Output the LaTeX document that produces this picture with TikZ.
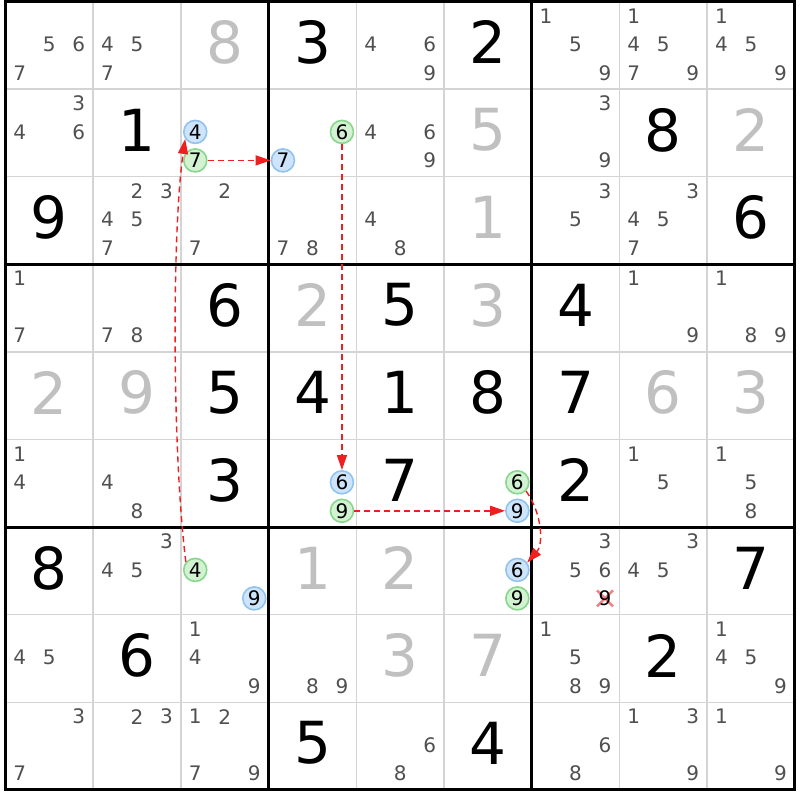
\documentclass[tikz,border=0pt]{standalone}
\usepackage{fontspec}
\setmainfont{DejaVu Sans}
\usetikzlibrary{arrows.meta}
\definecolor{candgray}{RGB}{80,80,80}
\definecolor{solvedgray}{RGB}{192,192,192}
\definecolor{thingrid}{RGB}{212,212,212}
\definecolor{bluefill}{RGB}{206,228,250}
\definecolor{blueline}{RGB}{145,195,240}
\definecolor{greenfill}{RGB}{210,242,210}
\definecolor{greenline}{RGB}{135,215,140}
\definecolor{chainred}{RGB}{240,30,30}
\definecolor{crossred}{RGB}{240,130,130}
\tikzset{
  candstyle/.style={inner sep=0pt, text=candgray, font=\fontsize{20pt}{20pt}\selectfont},
  givenstyle/.style={inner sep=0pt, text=black, font=\fontsize{58pt}{58pt}\selectfont},
  solvedstyle/.style={inner sep=0pt, text=solvedgray, font=\fontsize{58pt}{58pt}\selectfont},
  bluecirc/.style={circle, inner sep=0pt, minimum size=23pt, draw=blueline, fill=bluefill, line width=1.6pt, text=black, font=\fontsize{20pt}{20pt}\selectfont},
  greencirc/.style={circle, inner sep=0pt, minimum size=23pt, draw=greenline, fill=greenfill, line width=1.6pt, text=black, font=\fontsize{20pt}{20pt}\selectfont},
  elimstyle/.style={inner sep=0pt, text=black, font=\fontsize{20pt}{20pt}\selectfont},
  chainarrow/.style={draw=chainred, line width=1.4pt, dash pattern=on 6pt off 4pt, -{Triangle[length=15pt,width=10pt]}},
  crossline/.style={draw=crossred, line width=2.5pt},
  thinline/.style={draw=thingrid, line width=1.5pt},
  thickline/.style={draw=black, line width=3pt, line cap=rect}
}
% candidate position
\newcommand\sdkpos[3]{%
  \pgfmathsetmacro\px{5.5+(#2-0.5)*87.7+(mod(#3-1,3)-1)*29.5}%
  \pgfmathsetmacro\py{1.5+(#1-0.5)*87.6+(floor((#3-1)/3)-1)*28.5-1}}
\newcommand\sdkcand[3]{\sdkpos{#1}{#2}{#3}\node[candstyle] (k#1#2#3) at (\px,\py) {#3};}
\newcommand\sdkcands[3]{\foreach \dd in {#3} {\sdkcand{#1}{#2}{\dd}}}
\newcommand\sdkmark[4]{\sdkpos{#1}{#2}{#3}\node[#4] (k#1#2#3) at (\px,\py) {#3};}
\newcommand\sdkbig[4]{%
  \pgfmathsetmacro\px{5.5+(#2-0.5)*87.7}%
  \pgfmathsetmacro\py{1.5+(#1-0.5)*87.6-3}%
  \node[#4] (b#1#2) at (\px,\py) {#3};}
\begin{document}
\begin{tikzpicture}[x=1pt,y=-1pt]
\useasboundingbox (0,0) rectangle (800,800);
\fill[white] (0,0) rectangle (800,800);
% thin grid
\foreach \i in {1,2,4,5,7,8} {
  \draw[thinline] ({5.5+\i*87.7},1.5) -- ({5.5+\i*87.7},789.9);
  \draw[thinline] (5.5,{1.5+\i*87.6}) -- (794.8,{1.5+\i*87.6});
}
% givens
\sdkbig{1}{4}{3}{givenstyle} \sdkbig{1}{6}{2}{givenstyle}
\sdkbig{2}{2}{1}{givenstyle} \sdkbig{2}{8}{8}{givenstyle}
\sdkbig{3}{1}{9}{givenstyle} \sdkbig{3}{9}{6}{givenstyle}
\sdkbig{4}{3}{6}{givenstyle} \sdkbig{4}{5}{5}{givenstyle} \sdkbig{4}{7}{4}{givenstyle}
\sdkbig{5}{3}{5}{givenstyle} \sdkbig{5}{4}{4}{givenstyle} \sdkbig{5}{5}{1}{givenstyle}
\sdkbig{5}{6}{8}{givenstyle} \sdkbig{5}{7}{7}{givenstyle}
\sdkbig{6}{3}{3}{givenstyle} \sdkbig{6}{5}{7}{givenstyle} \sdkbig{6}{7}{2}{givenstyle}
\sdkbig{7}{1}{8}{givenstyle} \sdkbig{7}{9}{7}{givenstyle}
\sdkbig{8}{2}{6}{givenstyle} \sdkbig{8}{8}{2}{givenstyle}
\sdkbig{9}{4}{5}{givenstyle} \sdkbig{9}{6}{4}{givenstyle}
% solved
\sdkbig{1}{3}{8}{solvedstyle} \sdkbig{2}{6}{5}{solvedstyle} \sdkbig{2}{9}{2}{solvedstyle}
\sdkbig{3}{6}{1}{solvedstyle} \sdkbig{4}{4}{2}{solvedstyle} \sdkbig{4}{6}{3}{solvedstyle}
\sdkbig{5}{1}{2}{solvedstyle} \sdkbig{5}{2}{9}{solvedstyle} \sdkbig{5}{8}{6}{solvedstyle}
\sdkbig{5}{9}{3}{solvedstyle} \sdkbig{7}{4}{1}{solvedstyle} \sdkbig{7}{5}{2}{solvedstyle}
\sdkbig{8}{5}{3}{solvedstyle} \sdkbig{8}{6}{7}{solvedstyle}
% candidates
\sdkcands{1}{1}{5,6,7} \sdkcands{1}{2}{4,5,7} \sdkcands{1}{5}{4,6,9}
\sdkcands{1}{7}{1,5,9} \sdkcands{1}{8}{1,4,5,7,9} \sdkcands{1}{9}{1,4,5,9}
\sdkcands{2}{1}{3,4,6} \sdkcands{2}{5}{4,6,9} \sdkcands{2}{7}{3,9}
\sdkcands{3}{2}{2,3,4,5,7} \sdkcands{3}{3}{2,7} \sdkcands{3}{4}{7,8}
\sdkcands{3}{5}{4,8} \sdkcands{3}{7}{3,5} \sdkcands{3}{8}{3,4,5,7}
\sdkcands{4}{1}{1,7} \sdkcands{4}{2}{7,8} \sdkcands{4}{8}{1,9} \sdkcands{4}{9}{1,8,9}
\sdkcands{6}{1}{1,4} \sdkcands{6}{2}{4,8} \sdkcands{6}{8}{1,5} \sdkcands{6}{9}{1,5,8}
\sdkcands{7}{2}{3,4,5} \sdkcands{7}{7}{3,5,6} \sdkcands{7}{8}{3,4,5}
\sdkcands{8}{1}{4,5} \sdkcands{8}{3}{1,4,9} \sdkcands{8}{4}{8,9}
\sdkcands{8}{7}{1,5,8,9} \sdkcands{8}{9}{1,4,5,9}
\sdkcands{9}{1}{3,7} \sdkcands{9}{2}{2,3} \sdkcands{9}{3}{1,2,7,9}
\sdkcands{9}{5}{6,8} \sdkcands{9}{7}{6,8} \sdkcands{9}{8}{1,3,9} \sdkcands{9}{9}{1,9}
% eliminated candidate
\sdkpos{7}{7}{9}
\draw[crossline] ({\px-8},{\py-8}) -- ({\px+8},{\py+8});
\draw[crossline] ({\px-8},{\py+8}) -- ({\px+8},{\py-8});
\node[elimstyle] (k779) at (\px,\py) {9};
% highlighted candidates
\sdkmark{2}{3}{4}{bluecirc} \sdkmark{2}{3}{7}{greencirc}
\sdkmark{2}{4}{6}{greencirc} \sdkmark{2}{4}{7}{bluecirc}
\sdkmark{6}{4}{6}{bluecirc} \sdkmark{6}{4}{9}{greencirc}
\sdkmark{6}{6}{6}{greencirc} \sdkmark{6}{6}{9}{bluecirc}
\sdkmark{7}{3}{4}{greencirc} \sdkmark{7}{3}{9}{bluecirc}
\sdkmark{7}{6}{6}{bluecirc} \sdkmark{7}{6}{9}{greencirc}
% thick grid
\foreach \i in {0,3,6,9} {
  \draw[thickline] ({5.5+\i*87.7},1.5) -- ({5.5+\i*87.7},789.9);
  \draw[thickline] (5.5,{1.5+\i*87.6}) -- (794.8,{1.5+\i*87.6});
}
% chain
\draw[chainarrow] (k734.140) .. controls (172,450) and (172,230) .. (k234.215);
\draw[chainarrow] (k237) -- (k247);
\draw[chainarrow] (k246) -- (k646);
\draw[chainarrow] (k649) -- (k669);
\draw[chainarrow] (k666.-45) .. controls (543,515) and (543,545) .. (k766.37);
\end{tikzpicture}
\end{document}
